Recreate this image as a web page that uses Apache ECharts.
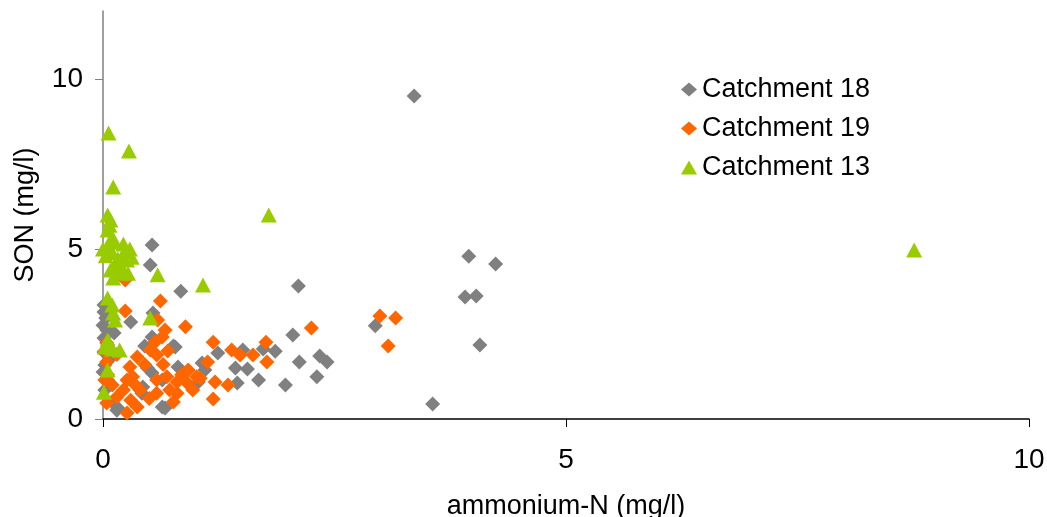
<!DOCTYPE html>
<html>
<head>
<meta charset="utf-8">
<script src="https://cdn.jsdelivr.net/npm/echarts@6/dist/echarts.min.js"></script>
<style>html,body{margin:0;padding:0;background:#fff;overflow:hidden}#c{width:1047px;height:517px}</style>
</head>
<body>
<div id="c"></div>
<script>
const seriesNames = ['Catchment 18', 'Catchment 19', 'Catchment 13'];
const xTicks = [0, 5, 10];
const yTicks = [0, 5, 10];
const catchment18 = [[3.36,9.50],[0.53,5.12],[0.51,4.53],[0.84,3.76],[2.11,3.91],[3.95,4.79],[4.24,4.56],[3.91,3.59],[4.03,3.62],[4.07,2.18],[2.94,2.74],[3.56,0.44],[0.30,2.85],[2.05,2.47],[2.34,1.85],[2.42,1.68],[2.31,1.24],[2.12,1.68],[1.97,1.00],[1.68,1.15],[1.86,1.99],[1.73,2.06],[1.56,1.47],[1.43,1.50],[1.45,1.06],[1.51,2.03],[1.24,1.94],[1.10,1.44],[0.78,2.12],[0.81,1.53],[0.45,2.15],[0.53,2.41],[0.64,0.35],[0.42,0.76],[0.53,1.35],[0.43,0.94],[0.15,0.26],[0.01,3.35],[0.01,3.15],[0.03,2.97],[0.00,2.76],[0.04,2.62],[0.01,2.38],[0.05,2.18],[0.01,1.97],[0.08,1.79],[0.02,1.59],[0.00,1.38],[0.05,1.15],[0.02,0.85],[0.10,0.50],[0.16,0.32],[0.76,2.15],[0.48,1.50],[0.64,1.15],[1.03,1.09],[1.07,1.65],[0.67,0.32],[0.12,2.53],[0.54,3.12]];
const catchment19 = [[2.99,3.03],[3.16,2.97],[3.08,2.15],[2.25,2.68],[1.76,2.26],[0.89,2.71],[0.62,3.47],[0.24,3.18],[0.24,4.09],[0.59,2.91],[1.19,2.26],[1.77,1.68],[1.39,2.03],[1.48,1.88],[1.62,1.88],[1.13,1.68],[1.21,1.09],[1.35,1.00],[1.19,0.59],[0.92,1.44],[1.01,1.24],[0.80,1.09],[0.72,0.85],[0.76,0.50],[0.58,1.15],[0.58,0.76],[0.64,2.41],[0.67,2.62],[0.56,2.26],[0.51,2.03],[0.58,1.88],[0.37,1.82],[0.29,1.53],[0.26,1.15],[0.32,1.24],[0.22,0.85],[0.37,0.35],[0.26,0.18],[0.15,0.65],[0.04,0.47],[0.02,1.15],[0.04,1.68],[0.04,2.24],[0.91,1.06],[0.97,0.85],[0.80,0.76],[0.69,1.24],[0.40,0.85],[0.02,2.00],[0.05,1.30],[0.10,1.00],[0.45,1.60],[0.85,1.30],[1.05,1.20],[0.35,1.00],[0.15,1.90],[0.65,1.60],[0.70,2.00],[0.50,0.60],[0.30,0.55]];
const catchment13 = [[0.06,8.41],[0.28,7.88],[0.11,6.82],[1.79,6.00],[8.76,4.97],[1.08,3.94],[0.59,4.24],[0.51,2.97],[0.05,6.00],[0.08,5.85],[0.05,5.56],[0.10,5.35],[0.05,5.06],[0.00,5.00],[0.22,5.15],[0.29,5.00],[0.31,4.76],[0.26,4.68],[0.20,4.47],[0.13,4.50],[0.08,4.38],[0.11,4.15],[0.27,4.29],[0.22,4.85],[0.16,4.71],[0.05,3.56],[0.10,3.35],[0.11,3.12],[0.13,2.91],[0.05,2.32],[0.02,2.12],[0.18,2.03],[0.10,2.06],[0.05,1.44],[0.01,0.79],[0.07,5.70],[0.12,5.20],[0.03,4.80],[0.18,4.30],[0.10,4.90]];

const font = 'Liberation Sans, Arial, sans-serif';
const fs = 27;
const chart = echarts.init(document.getElementById('c'), null, {renderer: 'canvas'});
chart.setOption({
  animation: false,
  backgroundColor: '#fff',
  grid: {left: 103, right: 18, top: 11, bottom: 98, containLabel: false, outerBoundsMode: 'none'},
  legend: {
    orient: 'vertical', left: 676, top: 71, itemGap: 12,
    itemWidth: 16, itemHeight: 14,
    textStyle: {fontFamily: font, fontSize: fs, color: '#000'},
    data: [
      {name: seriesNames[0], icon: 'diamond'},
      {name: seriesNames[1], icon: 'diamond'},
      {name: seriesNames[2], icon: 'triangle'}
    ]
  },
  xAxis: {
    type: 'value', min: 0, max: 10, interval: 5,
    name: 'ammonium-N (mg/l)', nameLocation: 'middle', nameGap: 74,
    nameTextStyle: {fontFamily: font, fontSize: fs, color: '#000'},
    axisLine: {show: true, onZero: false, lineStyle: {color: '#000', width: 1.5}},
    axisTick: {show: true, length: 8, lineStyle: {color: '#000'}, customValues: xTicks},
    axisLabel: {fontFamily: font, fontSize: 28, color: '#000', margin: 27, customValues: xTicks},
    splitLine: {show: false}
  },
  yAxis: {
    type: 'value', min: 0, max: 12, interval: 5,
    name: 'SON (mg/l)', nameLocation: 'middle', nameGap: 64,
    nameTextStyle: {fontFamily: font, fontSize: fs, color: '#000'},
    axisLine: {show: true, onZero: false, lineStyle: {color: '#808080', width: 1.5}},
    axisTick: {show: true, length: 8, lineStyle: {color: '#808080'}, customValues: yTicks},
    axisLabel: {fontFamily: font, fontSize: 28, color: '#000', margin: 20, customValues: yTicks},
    splitLine: {show: false}
  },
  series: [
    {name: seriesNames[0], type: 'scatter', symbol: 'diamond', symbolSize: [15, 15],
     itemStyle: {color: '#808080', opacity: 1}, data: catchment18, z: 2},
    {name: seriesNames[1], type: 'scatter', symbol: 'diamond', symbolSize: [15, 15],
     itemStyle: {color: '#FF6600', opacity: 1}, data: catchment19, z: 3},
    {name: seriesNames[2], type: 'scatter', symbol: 'triangle', symbolSize: [16, 15],
     itemStyle: {color: '#99CC00', opacity: 1}, data: catchment13, z: 4}
  ]
});
</script>
</body>
</html>
